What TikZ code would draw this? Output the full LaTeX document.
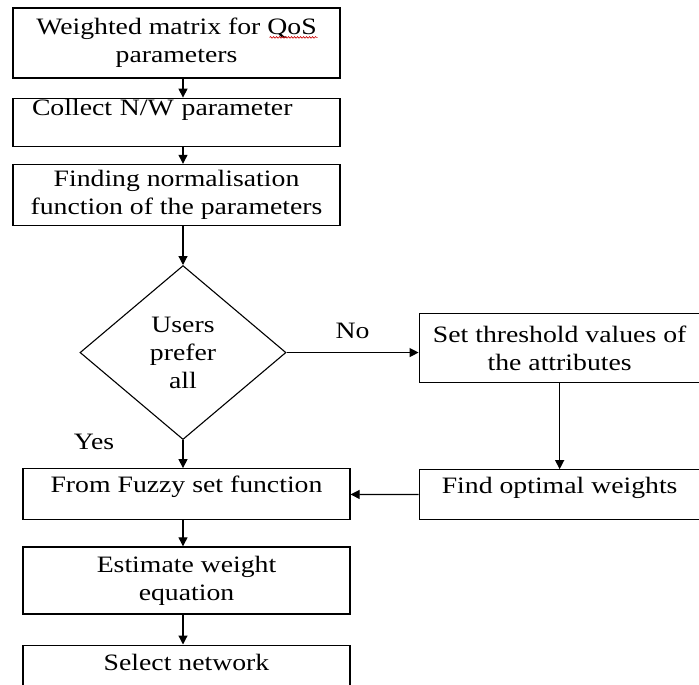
\documentclass[tikz,border=0pt]{standalone}
\usepackage{fontspec}
\setmainfont[FakeStretch=1.18]{Liberation Serif}
\usetikzlibrary{arrows.meta,positioning,shapes.geometric,decorations.pathmorphing}

\begin{document}
\begin{tikzpicture}[
    font=\fontsize{23.5}{28}\selectfont,
    box/.style={draw,line width=1.2pt,align=center,minimum width=327pt,inner sep=2pt},
    sidebox/.style={box,minimum width=281pt},
    decision/.style={draw,line width=1.1pt,diamond,align=center,minimum width=206pt,minimum height=174pt,inner sep=0pt},
    arrow/.style={-{Triangle[length=9pt,width=9pt]},line width=1.2pt},
    spellmark/.style={draw=red!80!black,line width=0.6pt,decorate,decoration={snake,amplitude=0.8pt,segment length=3pt}}
  ]
    \clip (0,0) rectangle (699pt,-685pt);
    \node[box,minimum height=70pt] (weights) at (176.5pt,-43pt) {Weighted matrix for QoS\\parameters};
    \node[box,below=19pt of weights,align=left,text width=289pt,inner xsep=19pt,inner ysep=0pt,
          text height=17.5pt,text depth=30.5pt] (collect) {Collect N/W parameter};
    \node[box,minimum height=61pt,below=17pt of collect] (normal) {Finding normalisation\\function of the parameters};
    \node[decision,below=39pt of normal,xshift=6.5pt] (prefer) {Users\\prefer\\all};
    \node[sidebox,minimum height=69pt,right=132pt of prefer,yshift=4.5pt] (thresh) {Set threshold values of\\the attributes};
    \node[sidebox,inner ysep=0pt,text height=24pt,text depth=26pt,below=86pt of thresh] (optimal) {Find optimal weights};
    \node[box,inner ysep=0pt,text height=24pt,text depth=27pt,below=28pt of prefer,xshift=3.5pt] (fuzzy) {From Fuzzy set function};
    \node[box,minimum height=67pt,below=26pt of fuzzy] (estimate) {Estimate weight\\equation};
    \node[box,inner ysep=0pt,text height=25pt,text depth=40pt,below=30pt of estimate] (select) {Select network};
    % spelling mark under QoS
    \draw[spellmark] ([xshift=-71pt,yshift=-30pt]weights.north east) -- ++(48pt,0);
    \draw[arrow] (weights.south -| prefer.north) -- (collect.north -| prefer.north);
    \draw[arrow] (collect.south -| prefer.north) -- (normal.north -| prefer.north);
    \draw[arrow] (normal.south -| prefer.north) -- (prefer.north);
    \draw[arrow] (prefer.south) -- (fuzzy.north -| prefer.south);
    \draw[arrow] (prefer.east) -- node[above=10pt] {No} (thresh.west |- prefer.east);
    \draw[arrow] (thresh) -- (optimal);
    \draw[arrow] (optimal) -- (fuzzy);
    \draw[arrow] (fuzzy.south -| prefer.south) -- (estimate.north -| prefer.south);
    \draw[arrow] (estimate.south -| prefer.south) -- (select.north -| prefer.south);
    \node at (94pt,-442pt) (yes) {Yes};
\end{tikzpicture}
\end{document}
